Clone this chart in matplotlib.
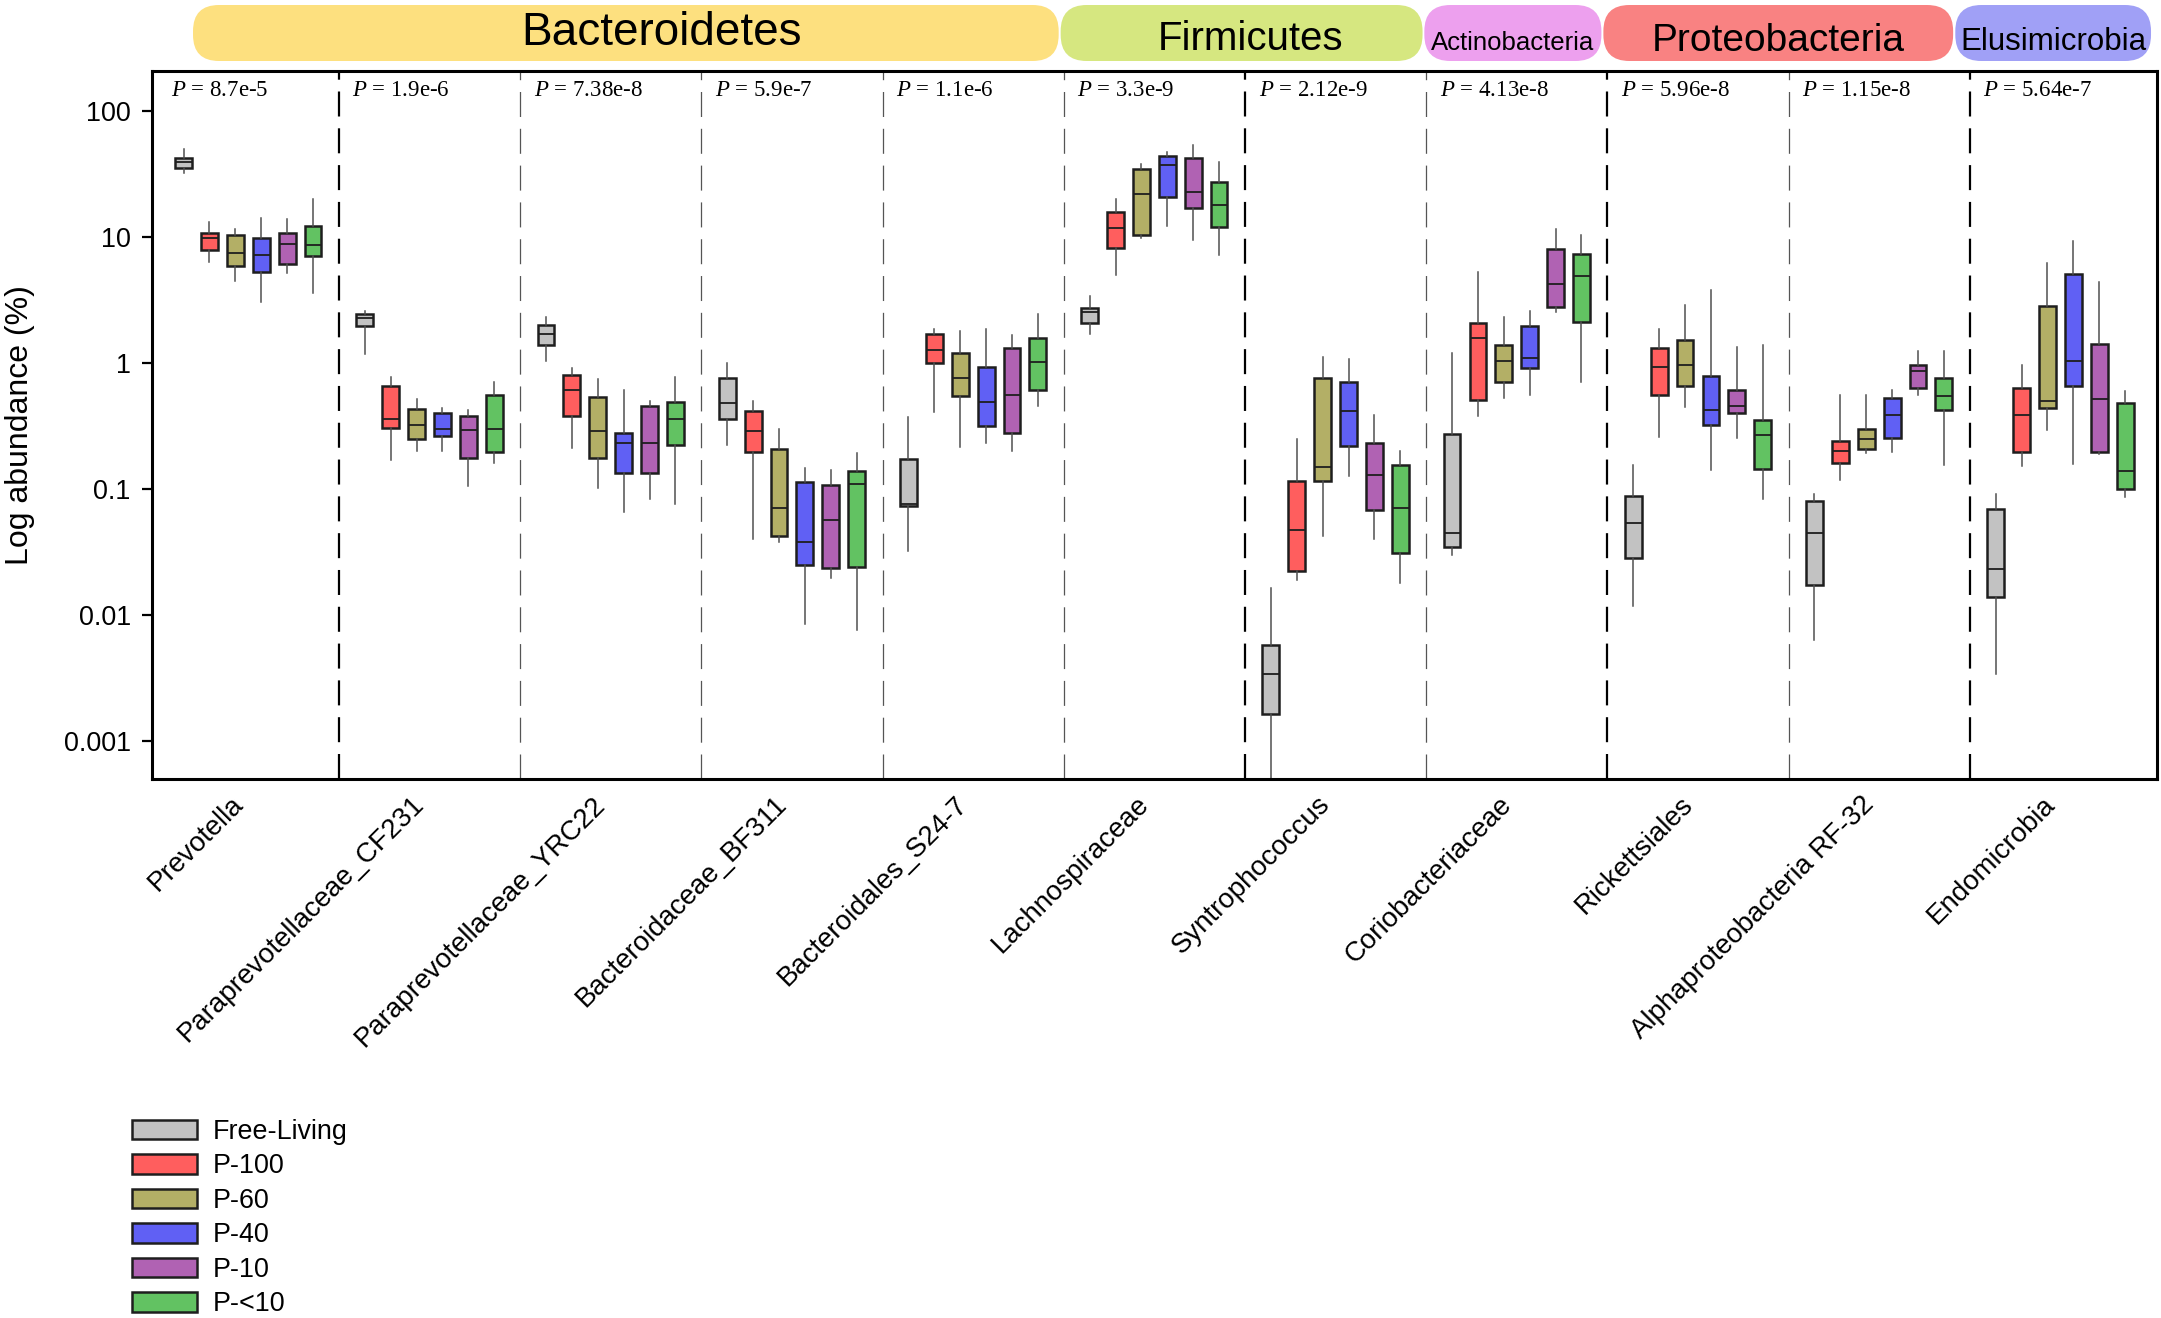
import matplotlib
matplotlib.use("Agg")
import matplotlib.pyplot as plt
from matplotlib.patches import FancyBboxPatch, Patch
from matplotlib.ticker import FixedLocator, FixedFormatter, NullLocator

plt.rcParams['font.family'] = ['Liberation Sans', 'DejaVu Sans']
plt.rcParams['mathtext.fontset'] = 'custom'
plt.rcParams['mathtext.rm'] = 'Liberation Serif'
plt.rcParams['mathtext.it'] = 'Liberation Serif:italic'
plt.rcParams['lines.scale_dashes'] = False

# ---------------- data ----------------
taxa = ["Prevotella", "Paraprevotellaceae_CF231", "Paraprevotellaceae_YRC22",
        "Bacteroidaceae_BF311", "Bacteroidales_S24-7", "Lachnospiraceae",
        "Syntrophococcus", "Coriobacteriaceae", "Rickettsiales",
        "Alphaproteobacteria RF-32", "Endomicrobia"]
pvalues = ["8.7e-5", "1.9e-6", "7.38e-8", "5.9e-7", "1.1e-6", "3.3e-9",
           "2.12e-9", "4.13e-8", "5.96e-8", "1.15e-8", "5.64e-7"]
groups = ["Free-Living", "P-100", "P-60", "P-40", "P-10", "P-<10"]
phyla = ["Bacteroidetes", "Firmicutes", "Actinobacteria", "Proteobacteria", "Elusimicrobia"]

# rows: taxa; columns: whisker low, Q1, median, Q3, whisker high (%)
free_living = [
    [31.9, 35.0, 39.0, 42.5, 50.0],
    [1.18, 1.95, 2.26, 2.46, 2.6],
    [1.04, 1.39, 1.69, 1.99, 2.3],
    [0.224, 0.358, 0.477, 0.76, 1.0],
    [0.032, 0.0734, 0.0755, 0.173, 0.368],
    [1.68, 2.06, 2.55, 2.72, 3.37],
    [0.0003, 0.00162, 0.0034, 0.00573, 0.01625],
    [0.0298, 0.0343, 0.0449, 0.273, 1.2],
    [0.0117, 0.0282, 0.0536, 0.0869, 0.155],
    [0.00624, 0.0172, 0.0441, 0.0792, 0.0901],
    [0.0034, 0.0137, 0.0232, 0.0689, 0.091],
]
p100 = [
    [6.3, 7.8, 9.8, 10.8, 13.2],
    [0.17, 0.305, 0.358, 0.66, 0.77],
    [0.21, 0.375, 0.61, 0.80, 0.91],
    [0.040, 0.197, 0.286, 0.411, 0.495],
    [0.41, 1.0, 1.27, 1.69, 1.87],
    [4.94, 8.2, 11.7, 15.7, 20.1],
    [0.019, 0.0223, 0.0466, 0.115, 0.246],
    [0.378, 0.51, 1.56, 2.06, 5.22],
    [0.258, 0.56, 0.933, 1.32, 1.87],
    [0.118, 0.159, 0.201, 0.238, 0.56],
    [0.152, 0.197, 0.385, 0.63, 0.96],
]
p60 = [
    [4.5, 5.9, 7.4, 10.3, 11.6],
    [0.20, 0.246, 0.32, 0.427, 0.52],
    [0.102, 0.175, 0.286, 0.533, 0.74],
    [0.038, 0.042, 0.0708, 0.208, 0.297],
    [0.214, 0.545, 0.76, 1.2, 1.79],
    [9.75, 10.3, 21.9, 34.3, 37.6],
    [0.042, 0.115, 0.149, 0.753, 1.12],
    [0.528, 0.706, 1.03, 1.39, 2.3],
    [0.443, 0.66, 0.96, 1.53, 2.9],
    [0.192, 0.206, 0.249, 0.30, 0.56],
    [0.292, 0.434, 0.5, 2.85, 6.18],
]
p40 = [
    [3.05, 5.3, 7.2, 9.8, 14.0],
    [0.20, 0.263, 0.297, 0.40, 0.434],
    [0.065, 0.133, 0.231, 0.278, 0.61],
    [0.00847, 0.0249, 0.0376, 0.114, 0.145],
    [0.231, 0.317, 0.49, 0.933, 1.87],
    [12.1, 20.6, 36.9, 44.0, 47.0],
    [0.126, 0.220, 0.415, 0.706, 1.07],
    [0.55, 0.916, 1.09, 1.97, 2.6],
    [0.141, 0.32, 0.423, 0.788, 3.77],
    [0.197, 0.254, 0.385, 0.528, 0.61],
    [0.158, 0.66, 1.03, 5.03, 9.3],
]
p10 = [
    [5.2, 6.1, 8.7, 10.7, 13.8],
    [0.105, 0.175, 0.294, 0.38, 0.42],
    [0.083, 0.133, 0.231, 0.45, 0.495],
    [0.0194, 0.0234, 0.0566, 0.107, 0.141],
    [0.20, 0.278, 0.55, 1.32, 1.65],
    [9.4, 16.9, 22.7, 42.0, 53.6],
    [0.040, 0.0683, 0.128, 0.229, 0.385],
    [2.53, 2.77, 4.22, 8.0, 11.5],
    [0.251, 0.40, 0.456, 0.61, 1.34],
    [0.56, 0.63, 0.867, 0.96, 1.23],
    [0.188, 0.197, 0.519, 1.42, 4.42],
]
plt10 = [
    [3.6, 7.1, 8.6, 12.3, 20.0],
    [0.159, 0.197, 0.297, 0.555, 0.71],
    [0.0756, 0.222, 0.358, 0.49, 0.77],
    [0.0075, 0.024, 0.11, 0.138, 0.192],
    [0.45, 0.61, 1.01, 1.57, 2.42],
    [7.24, 11.9, 17.9, 27.2, 39.5],
    [0.0178, 0.0309, 0.0708, 0.153, 0.201],
    [0.706, 2.1, 4.85, 7.31, 10.3],
    [0.0822, 0.143, 0.265, 0.351, 1.38],
    [0.155, 0.423, 0.544, 0.753, 1.23],
    [0.0853, 0.1, 0.138, 0.482, 0.60],
]
series = [free_living, p100, p60, p40, p10, plt10]
ytick_vals = [0.001, 0.01, 0.1, 1, 10, 100]
ytick_labels = ["0.001", "0.01", "0.1", "1", "10", "100"]

# ---------------- style ----------------
colors = ["#C2C2C2", "#FF5E5E", "#B3AF66", "#6060F4", "#B062B3", "#62C262"]
phylum_colors = ["#FDE07F", "#D6E780", "#EDA0EE", "#F98282", "#A0A0F6"]
phylum_span = [(0.195, 4.972), (4.983, 6.98), (6.99, 7.967), (7.978, 9.908), (9.92, 11.0)]
phylum_text_x = [2.78, 6.03, None, None, None]
phylum_fs = [33, 29, 18.5, 28, 22.5]
phylum_base_px = [45, 50, 50, 51, 50]
thick_seps = [1, 6, 8, 10]
EDGE = "#1e1e1e"

W, H = 2161, 1318
fig = plt.figure(figsize=(W / 100, H / 100), dpi=100)
ax_l, ax_r, ax_t, ax_b = 151.7, 2157.0, 71.0, 779.0
ax = fig.add_axes([ax_l / W, 1 - ax_b / H, (ax_r - ax_l) / W, (ax_b - ax_t) / H])

n = len(taxa)
xpad = 0.033
xmin, xmax = -xpad, n + xpad
step = 1.0 / 7
for k, (ser, col) in enumerate(zip(series, colors)):
    stats = []
    for row in ser:
        lo, q1, med, q3, hi = row
        stats.append(dict(whislo=lo, q1=q1, med=med, q3=q3, whishi=hi, fliers=[]))
    pos = [i + (k + 1) * step for i in range(n)]
    ax.bxp(stats, positions=pos, widths=0.093, patch_artist=True,
           showfliers=False, showcaps=False, manage_ticks=False,
           boxprops=dict(facecolor=col, edgecolor=EDGE, linewidth=1.8),
           medianprops=dict(color=EDGE, linewidth=1.3),
           whiskerprops=dict(color="#505050", linewidth=1.1))

ax.set_yscale('log')
ax.set_ylim(10 ** -3.305, 10 ** 2.317)
ax.set_xlim(xmin, xmax)
ax.yaxis.set_major_locator(FixedLocator(ytick_vals))
ax.yaxis.set_major_formatter(FixedFormatter(ytick_labels))
ax.yaxis.set_minor_locator(NullLocator())
ax.tick_params(axis='y', labelsize=19.4, length=7, width=1.6, pad=8, direction='out')
ax.set_xticks([i + 0.5 for i in range(n)])
ax.set_xticklabels(taxa, rotation=45, ha='right', va='top', fontsize=19.9)
ax.tick_params(axis='x', length=0, pad=9)
for sp in ax.spines.values():
    sp.set_linewidth(2.2)
    sp.set_color('black')

# separators
for b in range(1, n):
    if b in thick_seps:
        ax.axvline(b, color='black', linewidth=1.6, linestyle=(0, (18, 8.5)))
    else:
        ax.axvline(b, color='#555555', linewidth=0.9, linestyle=(0, (18, 8.5)))

# P-values
tr = ax.get_xaxis_transform()
for i, p in enumerate(pvalues):
    ax.text(i + 0.075, 0.973, r'$P$ = ' + p, transform=tr, ha='left', va='center',
            fontsize=16.5, family='Liberation Serif')

# y label
fig.text(20 / W, 1 - 425 / H, "Log abundance (%)", rotation=90, ha='center',
         va='center', fontsize=23)


def gx(g):
    return (ax_l + (g - xmin) / (xmax - xmin) * (ax_r - ax_l)) / W


# phylum banners
ban_top, ban_bot = 5.0, 61.0
for name, col, (g0, g1), tx, fs, bpx in zip(phyla, phylum_colors, phylum_span,
                                            phylum_text_x, phylum_fs, phylum_base_px):
    x0, x1 = gx(g0), gx(g1)
    y0 = 1 - ban_bot / H
    y1 = 1 - ban_top / H
    r = 26.0 / W
    patch = FancyBboxPatch((x0, y0), x1 - x0, y1 - y0,
                           boxstyle=f"round,pad=0,rounding_size={r}",
                           mutation_aspect=W / H, transform=fig.transFigure,
                           facecolor=col, edgecolor='none')
    fig.patches.append(patch)
    xc = (x0 + x1) / 2 if tx is None else gx(tx)
    fig.text(xc, 1 - bpx / H, name, ha='center', va='baseline', fontsize=fs, color='black')

# legend
handles = [Patch(facecolor=c, edgecolor=EDGE, linewidth=1.8, label=g)
           for c, g in zip(colors, groups)]
fig.legend(handles=handles, loc='upper left', bbox_to_anchor=(132 / W, 1 - 1119 / H),
           frameon=False, fontsize=19.4, handlelength=2.4, handleheight=0.74,
           handletextpad=0.6, labelspacing=0.315, borderpad=0, borderaxespad=0)

fig.savefig("out.png", dpi=100)
